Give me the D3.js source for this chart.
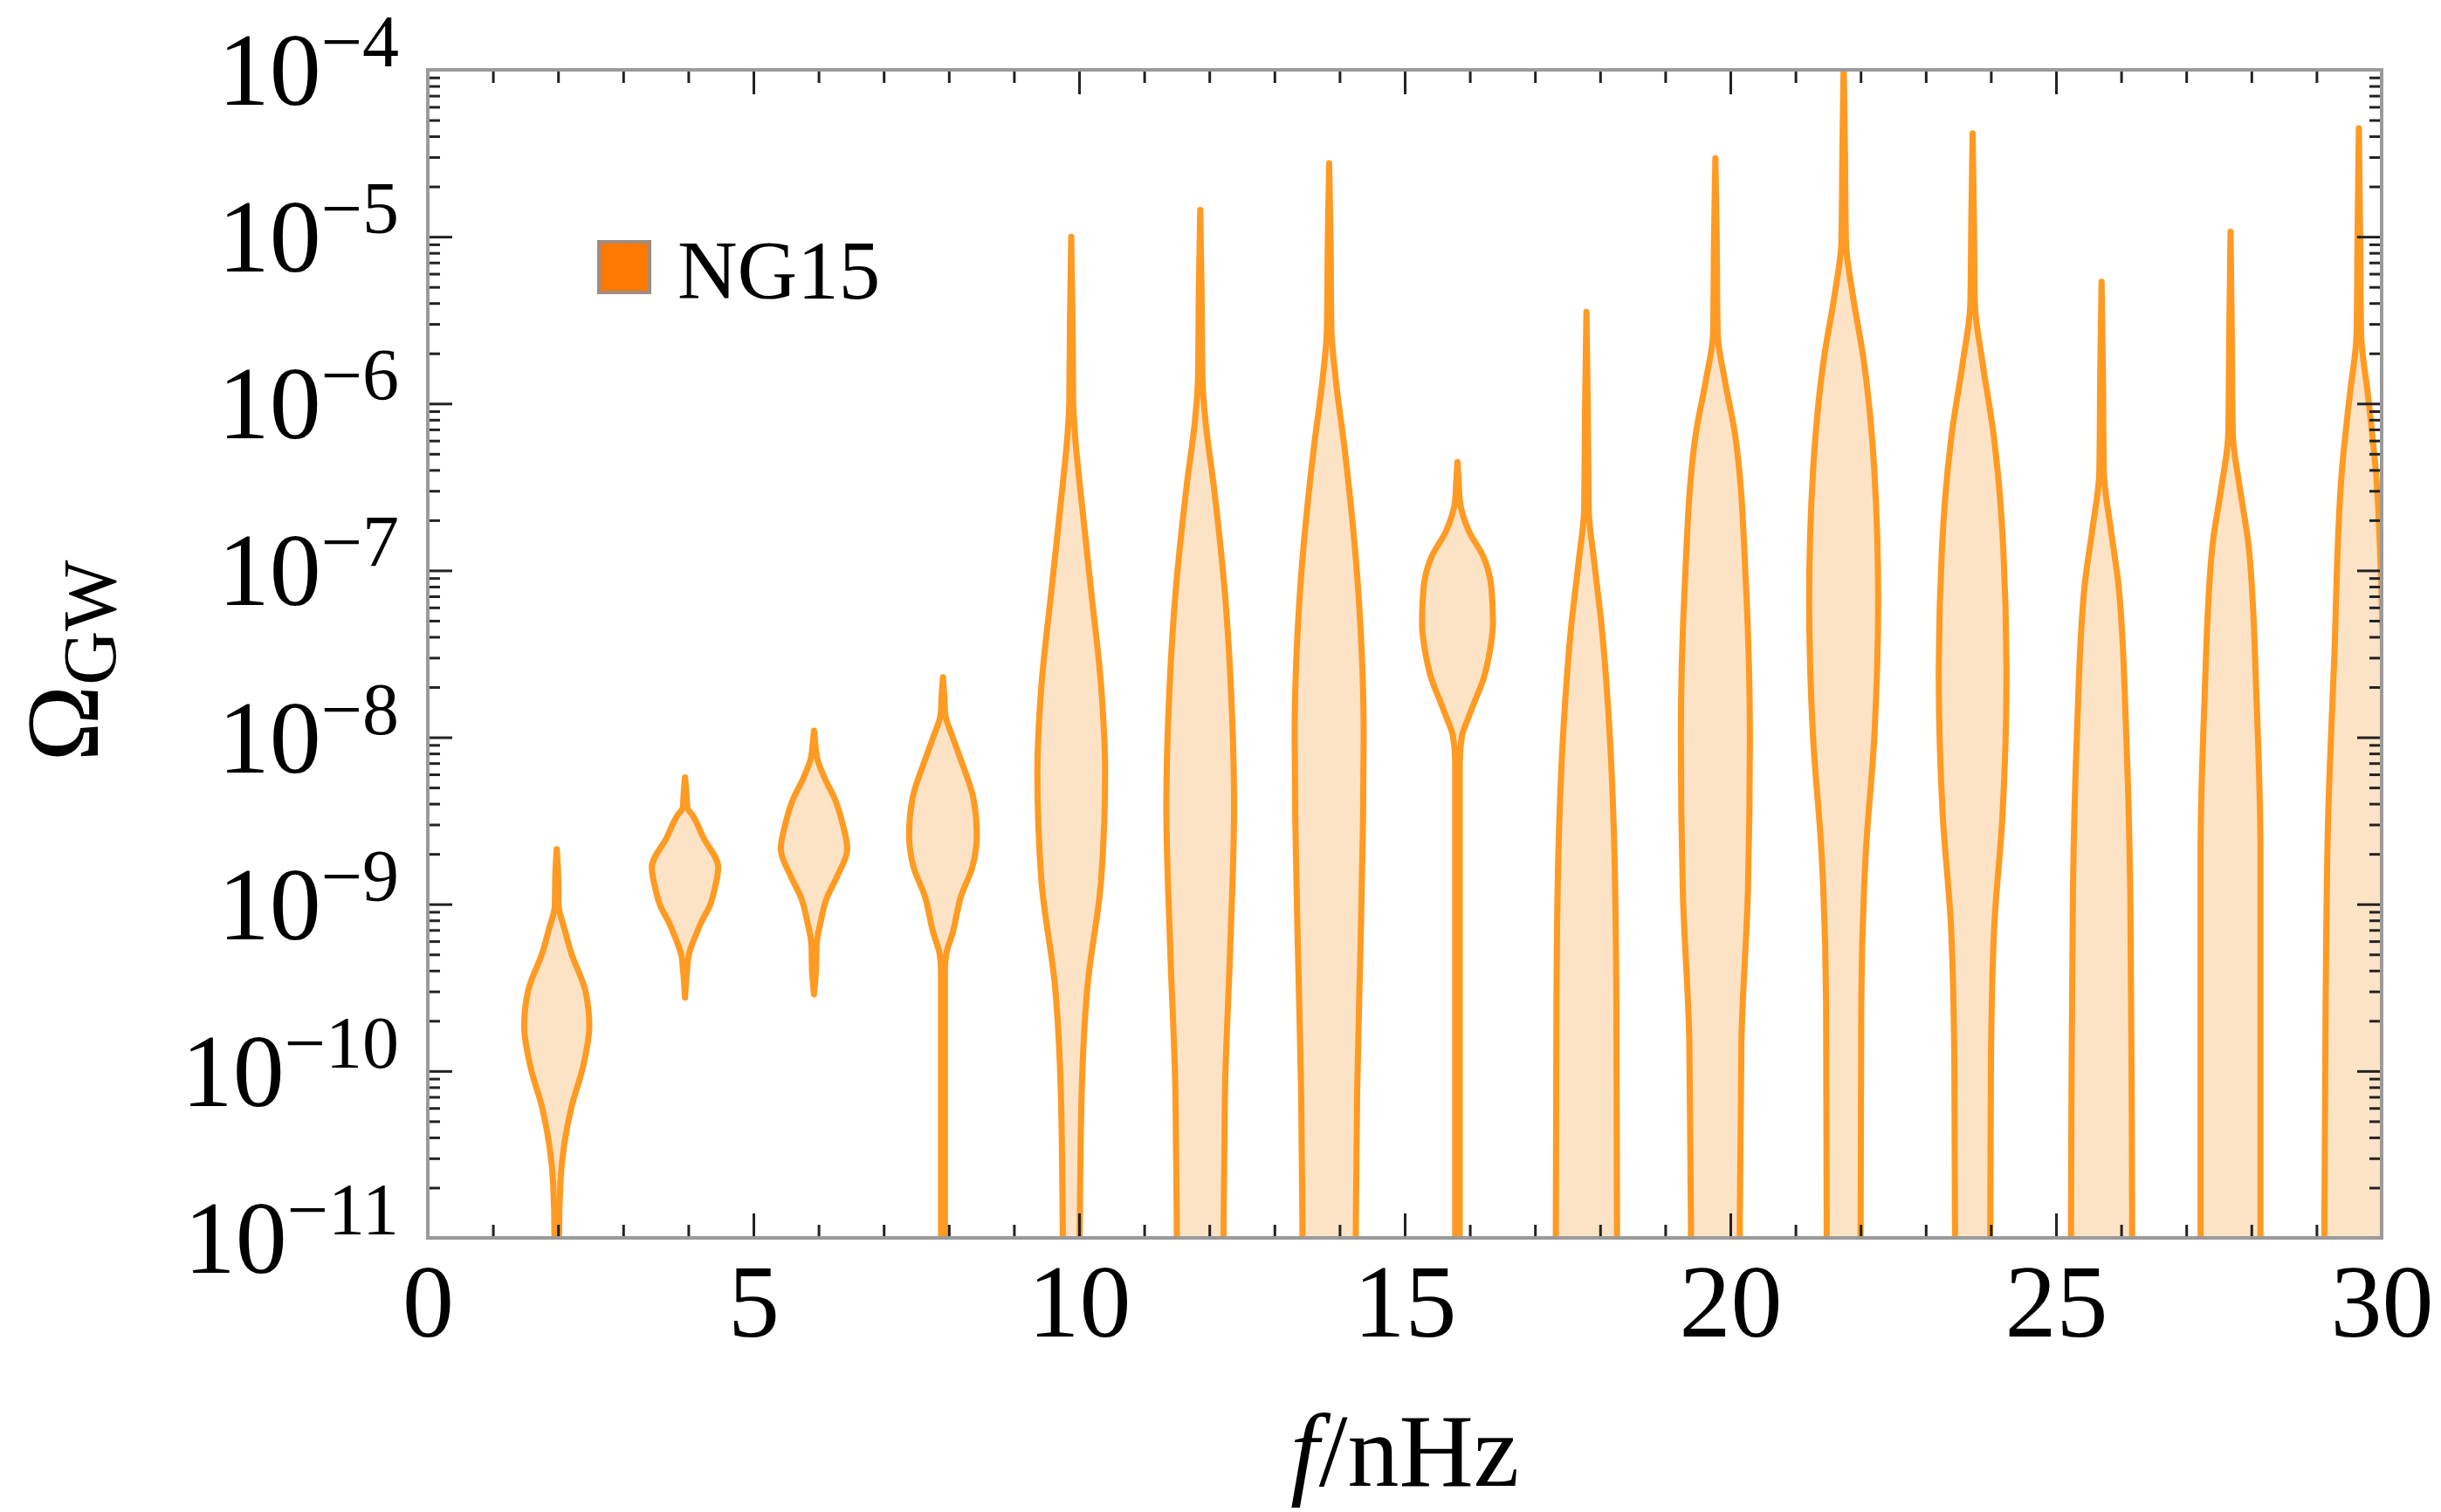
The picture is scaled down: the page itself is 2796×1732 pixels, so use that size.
<!DOCTYPE html>
<html>
<head>
<meta charset="utf-8">
<script src="https://cdn.jsdelivr.net/npm/d3@7"></script>
<style>
  body { margin: 0; background: #fff; }
  text { font-family: "Liberation Serif", "Times New Roman", serif; fill: #000; }
</style>
</head>
<body>
<script>
// frequency bins of the NG15 free spectrum (nHz)
var freqs = [1.98, 3.95, 5.93, 7.91, 9.88, 11.86, 13.84, 15.81, 17.79, 19.77, 21.74, 23.72, 25.70, 27.68, 29.65];

// violin profiles: log10(Omega_GW) and half width (nHz)
var violinLogOmega = [
  [-8.67, -8.80, -9.01, -9.15, -9.29, -9.52, -9.73, -9.98, -10.21, -10.44, -10.67, -11.0, -11.5],
  [-8.24, -8.33, -8.42, -8.47, -8.60, -8.78, -8.90, -9.01, -9.10, -9.20, -9.30, -9.40, -9.56],
  [-7.96, -8.04, -8.12, -8.25, -8.37, -8.52, -8.67, -8.83, -8.97, -9.11, -9.24, -9.40, -9.54],
  [-7.64, -7.75, -7.86, -8.00, -8.14, -8.37, -8.58, -8.78, -8.95, -9.17, -9.30, -9.40, -11.5],
  [-5.00, -5.50, -5.99, -6.20, -6.50, -7.14, -7.70, -8.21, -8.85, -9.49, -10.13, -10.96, -11.5],
  [-4.84, -5.30, -5.86, -6.10, -6.50, -7.14, -7.78, -8.42, -9.27, -10.13, -10.96, -11.5],
  [-4.56, -5.00, -5.56, -5.85, -6.28, -7.14, -7.99, -8.50, -9.27, -10.13, -10.96, -11.5],
  [-6.35, -6.47, -6.58, -6.76, -6.92, -7.10, -7.31, -7.52, -7.65, -7.78, -7.90, -7.99, -8.15, -11.5],
  [-5.45, -6.00, -6.63, -6.95, -7.32, -8.00, -8.69, -9.60, -11.0, -11.5],
  [-4.53, -5.00, -5.58, -5.85, -6.18, -7.09, -8.00, -8.92, -9.83, -11.0, -11.5],
  [-3.95, -4.50, -5.03, -5.35, -5.72, -6.40, -7.18, -8.00, -8.69, -9.60, -11.0, -11.5],
  [-4.38, -4.90, -5.40, -5.75, -6.18, -6.86, -7.64, -8.46, -9.15, -10.0, -11.0, -11.5],
  [-5.27, -5.80, -6.41, -6.75, -7.09, -8.00, -8.92, -10.0, -11.0, -11.5],
  [-4.97, -5.60, -6.18, -6.50, -6.86, -7.78, -8.69, -11.0, -11.5],
  [-4.35, -5.00, -5.58, -5.95, -6.40, -7.55, -8.46, -9.60, -11.0, -11.5]
];
var violinHalfWidth = [
  [0, 0.02, 0.03, 0.12, 0.22, 0.44, 0.50, 0.40, 0.23, 0.115, 0.056, 0.035, 0.035],
  [0, 0.02, 0.035, 0.12, 0.28, 0.51, 0.46, 0.38, 0.26, 0.15, 0.06, 0.03, 0],
  [0, 0.02, 0.045, 0.17, 0.32, 0.44, 0.51, 0.36, 0.19, 0.10, 0.04, 0.03, 0],
  [0, 0.02, 0.035, 0.15, 0.28, 0.47, 0.52, 0.45, 0.28, 0.15, 0.05, 0.03, 0.03],
  [0, 0.02, 0.03, 0.06, 0.135, 0.31, 0.46, 0.52, 0.46, 0.25, 0.16, 0.13, 0.12],
  [0, 0.02, 0.035, 0.08, 0.21, 0.38, 0.48, 0.52, 0.46, 0.38, 0.36, 0.36],
  [0, 0.02, 0.035, 0.10, 0.24, 0.45, 0.53, 0.52, 0.48, 0.43, 0.41, 0.41],
  [0, 0.02, 0.035, 0.17, 0.40, 0.52, 0.545, 0.48, 0.40, 0.27, 0.15, 0.07, 0.035, 0.035],
  [0, 0.02, 0.035, 0.12, 0.23, 0.36, 0.43, 0.46, 0.47, 0.47],
  [0, 0.02, 0.035, 0.14, 0.30, 0.47, 0.53, 0.50, 0.40, 0.375, 0.375],
  [0, 0.02, 0.035, 0.14, 0.30, 0.47, 0.53, 0.47, 0.34, 0.27, 0.26, 0.26],
  [0, 0.02, 0.035, 0.15, 0.32, 0.47, 0.52, 0.46, 0.33, 0.28, 0.27, 0.27],
  [0, 0.02, 0.035, 0.14, 0.26, 0.38, 0.44, 0.46, 0.47, 0.47],
  [0, 0.02, 0.035, 0.14, 0.28, 0.40, 0.46, 0.46, 0.46],
  [0, 0.02, 0.035, 0.14, 0.26, 0.38, 0.47, 0.51, 0.53, 0.53]
];

var xTicks = [0, 5, 10, 15, 20, 25, 30];
var yExponents = [-4, -5, -6, -7, -8, -9, -10, -11];
var legendLabel = 'NG15';

var svgWidth = 2796, svgHeight = 1732;
var plotLeft = 490, plotRight = 2728, plotTop = 80, plotBottom = 1418;

var svg = d3.select('body').append('svg')
  .attr('width', svgWidth).attr('height', svgHeight);

var x = d3.scaleLinear().domain([0, 30]).range([plotLeft, plotRight]);
var y = d3.scaleLog().domain([1e-11, 1e-4]).range([plotBottom, plotTop]);

svg.append('clipPath').attr('id', 'plotClip')
  .append('rect')
  .attr('x', plotLeft).attr('y', plotTop)
  .attr('width', plotRight - plotLeft).attr('height', plotBottom - plotTop);

// violins
var violins = svg.append('g').attr('clip-path', 'url(#plotClip)');
freqs.forEach(function (f, i) {
  var pts = violinLogOmega[i].map(function (lg, j) {
    return { lg: lg, hw: violinHalfWidth[i][j] };
  });
  var area = d3.area()
    .curve(d3.curveMonotoneY)
    .y(function (d) { return y(Math.pow(10, d.lg)); })
    .x0(function (d) { return x(f - d.hw); })
    .x1(function (d) { return x(f + d.hw); });
  violins.append('path')
    .attr('d', area(pts))
    .attr('fill', '#fde3c6')
    .attr('stroke', '#ff9a22')
    .attr('stroke-width', 7)
    .attr('stroke-linejoin', 'round');
});

// ticks on all four sides
var xMinor = d3.range(0, 31).filter(function (v) { return v % 5 !== 0; });
var yAll = y.ticks();
var yMajor = yAll.filter(function (v) { return Math.abs(Math.log10(v) - Math.round(Math.log10(v))) < 1e-6; });
var yMinor = yAll.filter(function (v) { return yMajor.indexOf(v) < 0; });

function addAxis(axis, tx, ty) {
  var g = svg.append('g').attr('transform', 'translate(' + tx + ',' + ty + ')').call(axis);
  g.select('.domain').remove();
  g.selectAll('.tick line').attr('stroke', '#222').attr('stroke-width', 3);
  return g;
}

var bottomAxis = addAxis(d3.axisBottom(x).tickValues(xTicks).tickSizeInner(-28).tickSizeOuter(0)
  .tickPadding(29).tickFormat(d3.format('d')), 0, plotBottom);
bottomAxis.attr('font-size', null).attr('font-family', null);
bottomAxis.selectAll('text').attr('font-size', 118);
addAxis(d3.axisBottom(x).tickValues(xMinor).tickSizeInner(-15).tickSizeOuter(0).tickFormat(''), 0, plotBottom);
addAxis(d3.axisTop(x).tickValues(xTicks).tickSizeInner(-28).tickSizeOuter(0).tickFormat(''), 0, plotTop);
addAxis(d3.axisTop(x).tickValues(xMinor).tickSizeInner(-15).tickSizeOuter(0).tickFormat(''), 0, plotTop);
addAxis(d3.axisLeft(y).tickValues(yMajor).tickSizeInner(-28).tickSizeOuter(0).tickFormat(''), plotLeft, 0);
addAxis(d3.axisLeft(y).tickValues(yMinor).tickSizeInner(-14).tickSizeOuter(0).tickFormat(''), plotLeft, 0);
addAxis(d3.axisRight(y).tickValues(yMajor).tickSizeInner(-28).tickSizeOuter(0).tickFormat(''), plotRight, 0);
addAxis(d3.axisRight(y).tickValues(yMinor).tickSizeInner(-14).tickSizeOuter(0).tickFormat(''), plotRight, 0);

// frame
svg.append('rect')
  .attr('x', plotLeft).attr('y', plotTop)
  .attr('width', plotRight - plotLeft).attr('height', plotBottom - plotTop)
  .attr('fill', 'none').attr('stroke', '#9a9a9a').attr('stroke-width', 4);

// y tick labels as powers of ten
yExponents.forEach(function (e) {
  var t = svg.append('text')
    .attr('x', 457).attr('y', y(Math.pow(10, e)) + 40)
    .attr('text-anchor', 'end').attr('font-size', 118);
  t.append('tspan').text('10');
  t.append('tspan').attr('font-size', 84).attr('dy', -44).text('\u2212' + Math.abs(e));
});

// axis titles
var xt = svg.append('text')
  .attr('x', (plotLeft + plotRight) / 2).attr('y', 1702)
  .attr('text-anchor', 'middle').attr('font-size', 118);
xt.append('tspan').attr('font-style', 'italic').text('f');
xt.append('tspan').text('/nHz');

var yt = svg.append('text')
  .attr('transform', 'translate(112,757) rotate(-90)')
  .attr('text-anchor', 'middle').attr('font-size', 118);
yt.append('tspan').text('\u03A9');
yt.append('tspan').attr('font-size', 86).attr('dy', 20).text('GW');

// legend
svg.append('rect')
  .attr('x', 686).attr('y', 277).attr('width', 58).attr('height', 58)
  .attr('fill', '#ff7800').attr('stroke', '#a08c80').attr('stroke-width', 4);
svg.append('text')
  .attr('x', 776).attr('y', 342).attr('font-size', 95)
  .text(legendLabel);
</script>
</body>
</html>
